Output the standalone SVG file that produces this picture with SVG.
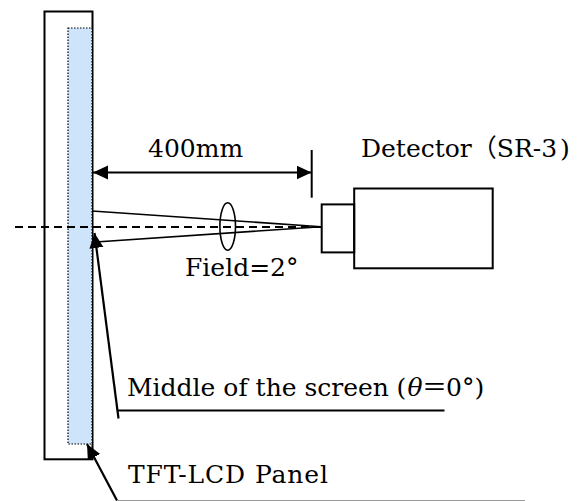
<svg xmlns="http://www.w3.org/2000/svg" width="579" height="501" viewBox="0 0 579 501">
  <style>
    .txt { font-family: "DejaVu Serif", "Noto Sans CJK JP", serif; font-size: 25px; fill: #000; }
    .cjk { font-family: "Noto Sans CJK JP", sans-serif; }
    .ln { stroke: #000; fill: none; }
  </style>
  <defs>
    <marker id="ah" markerUnits="userSpaceOnUse" markerWidth="16" markerHeight="15" refX="15" refY="7" orient="auto-start-reverse">
      <path d="M0,0 L15,7 L0,14 z" fill="#000"/>
    </marker>
  </defs>
  <rect width="579" height="501" fill="#fff"/>

  <g id="panel">
    <rect x="44.5" y="11.5" width="48" height="447.8" class="ln" stroke-width="2"/>
    <rect x="68" y="28" width="24" height="416" fill="#cde4fb" stroke="#000" stroke-width="1.2" stroke-dasharray="1.5 1.5"/>
  </g>

  <g id="detector">
    <rect x="321.7" y="204.4" width="32.5" height="48" class="ln" stroke-width="2"/>
    <rect x="354.2" y="188.5" width="138.5" height="79.8" class="ln" stroke-width="2"/>
  </g>

  <g id="connectors">
    <line x1="15" y1="227" x2="321" y2="227" class="ln" stroke-width="2" stroke-dasharray="8 5"/>
    <line x1="92" y1="211" x2="321" y2="226.7" class="ln" stroke-width="1.6"/>
    <line x1="92" y1="242.3" x2="321" y2="226.7" class="ln" stroke-width="1.6"/>
    <ellipse cx="227.7" cy="226.5" rx="7.8" ry="23.7" class="ln" stroke-width="1.6"/>
    <line x1="93" y1="172.5" x2="311.5" y2="172.5" class="ln" stroke-width="2.2" marker-start="url(#ah)" marker-end="url(#ah)"/>
    <line x1="311.7" y1="150" x2="311.7" y2="197.7" class="ln" stroke-width="2"/>
    <line x1="118.5" y1="418.5" x2="94.5" y2="233" class="ln" stroke-width="2.2" marker-end="url(#ah)"/>
    <line x1="118" y1="410.5" x2="444.5" y2="410.5" class="ln" stroke-width="2.2"/>
    <line x1="117" y1="500.5" x2="87" y2="444" class="ln" stroke-width="2.2" marker-end="url(#ah)"/>
    <line x1="117" y1="500.5" x2="525" y2="500.5" stroke="#999" stroke-width="1"/>
  </g>

  <g id="labels">
    <text class="txt" x="148" y="157">400mm</text>
    <text class="txt" x="361" y="157">Detector<tspan class="cjk">（</tspan>SR-3<tspan x="560">)</tspan></text>
    <text class="txt" x="185" y="275.5">Field=2°</text>
    <text class="txt" x="127" y="396">Middle of the screen <tspan x="396.5">(</tspan><tspan x="407.5" font-style="italic">θ</tspan><tspan class="cjk" x="422">＝</tspan><tspan x="446">0°)</tspan></text>
    <text class="txt" x="128" y="483" textLength="200" lengthAdjust="spacing">TFT-LCD Panel</text>
  </g>
</svg>
